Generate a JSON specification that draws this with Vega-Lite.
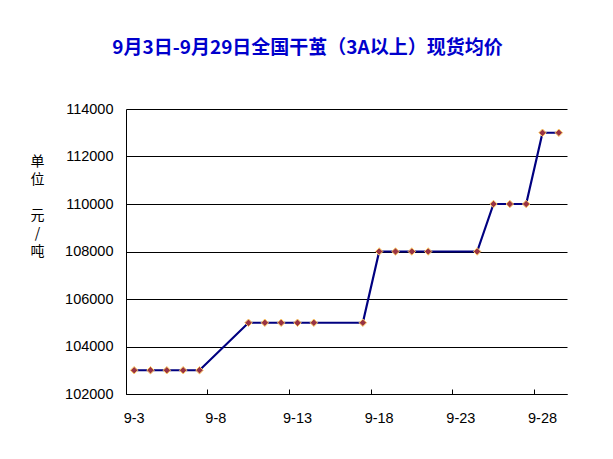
{
  "$schema": "https://vega.github.io/schema/vega-lite/v6.json",
  "autosize": {"type": "none"},
  "width": 441,
  "height": 285,
  "padding": {"left": 126, "top": 109, "right": 46, "bottom": 65},
  "background": "white",
  "title": {
    "text": "9月3日-9月29日全国干茧（3A以上）现货均价",
    "color": "#0000CC",
    "font": "Noto Sans CJK SC",
    "fontSize": 19,
    "fontWeight": "bold",
    "anchor": "middle",
    "dx": -39,
    "offset": 43
  },
  "config": {
    "view": {"stroke": null},
    "axis": {
      "labelFont": "Liberation Sans",
      "labelFontSize": 14.5,
      "labelColor": "black",
      "domainColor": "black",
      "tickColor": "black",
      "gridColor": "black"
    }
  },
  "data": {
    "values": [
      {"date": "9-3", "price": 103000},
      {"date": "9-4", "price": 103000},
      {"date": "9-5", "price": 103000},
      {"date": "9-6", "price": 103000},
      {"date": "9-7", "price": 103000},
      {"date": "9-10", "price": 105000},
      {"date": "9-11", "price": 105000},
      {"date": "9-12", "price": 105000},
      {"date": "9-13", "price": 105000},
      {"date": "9-14", "price": 105000},
      {"date": "9-17", "price": 105000},
      {"date": "9-18", "price": 108000},
      {"date": "9-19", "price": 108000},
      {"date": "9-20", "price": 108000},
      {"date": "9-21", "price": 108000},
      {"date": "9-24", "price": 108000},
      {"date": "9-25", "price": 110000},
      {"date": "9-26", "price": 110000},
      {"date": "9-27", "price": 110000},
      {"date": "9-28", "price": 113000},
      {"date": "9-29", "price": 113000}
    ]
  },
  "encoding": {
    "x": {
      "field": "date",
      "type": "ordinal",
      "sort": null,
      "scale": {
        "type": "band",
        "paddingInner": 0,
        "paddingOuter": 0,
        "domain": ["9-3","9-4","9-5","9-6","9-7","9-8","9-9","9-10","9-11","9-12","9-13","9-14","9-15","9-16","9-17","9-18","9-19","9-20","9-21","9-22","9-23","9-24","9-25","9-26","9-27","9-28","9-29"]
      },
      "axis": {
        "title": null,
        "values": ["9-3","9-8","9-13","9-18","9-23","9-28"],
        "bandPosition": 0,
        "labelAngle": 0,
        "tickSize": -5,
        "labelPadding": 22,
        "grid": false
      }
    },
    "y": {
      "field": "price",
      "type": "quantitative",
      "scale": {"domain": [102000, 114000], "nice": false, "zero": false},
      "axis": {
        "values": [102000, 104000, 106000, 108000, 110000, 112000, 114000],
        "format": "d",
        "ticks": false,
        "labelPadding": 13,
        "grid": true,
        "title": ["单", "位", "\u200b", "元", "/", "吨"],
        "titleAngle": 0,
        "titleFont": "Noto Sans CJK SC",
        "titleFontSize": 14,
        "titleFontWeight": "normal",
        "titleColor": "black",
        "titleLineHeight": 18,
        "titleAlign": "center",
        "titleBaseline": "top",
        "titleX": -89,
        "titleY": 45
      }
    }
  },
  "layer": [
    {"mark": {"type": "line", "color": "#000080", "strokeWidth": 2.2}},
    {"mark": {"type": "point", "shape": "diamond", "filled": true, "fill": "#993344", "stroke": "#FFCC66", "strokeWidth": 1, "size": 55, "opacity": 1}}
  ]
}
